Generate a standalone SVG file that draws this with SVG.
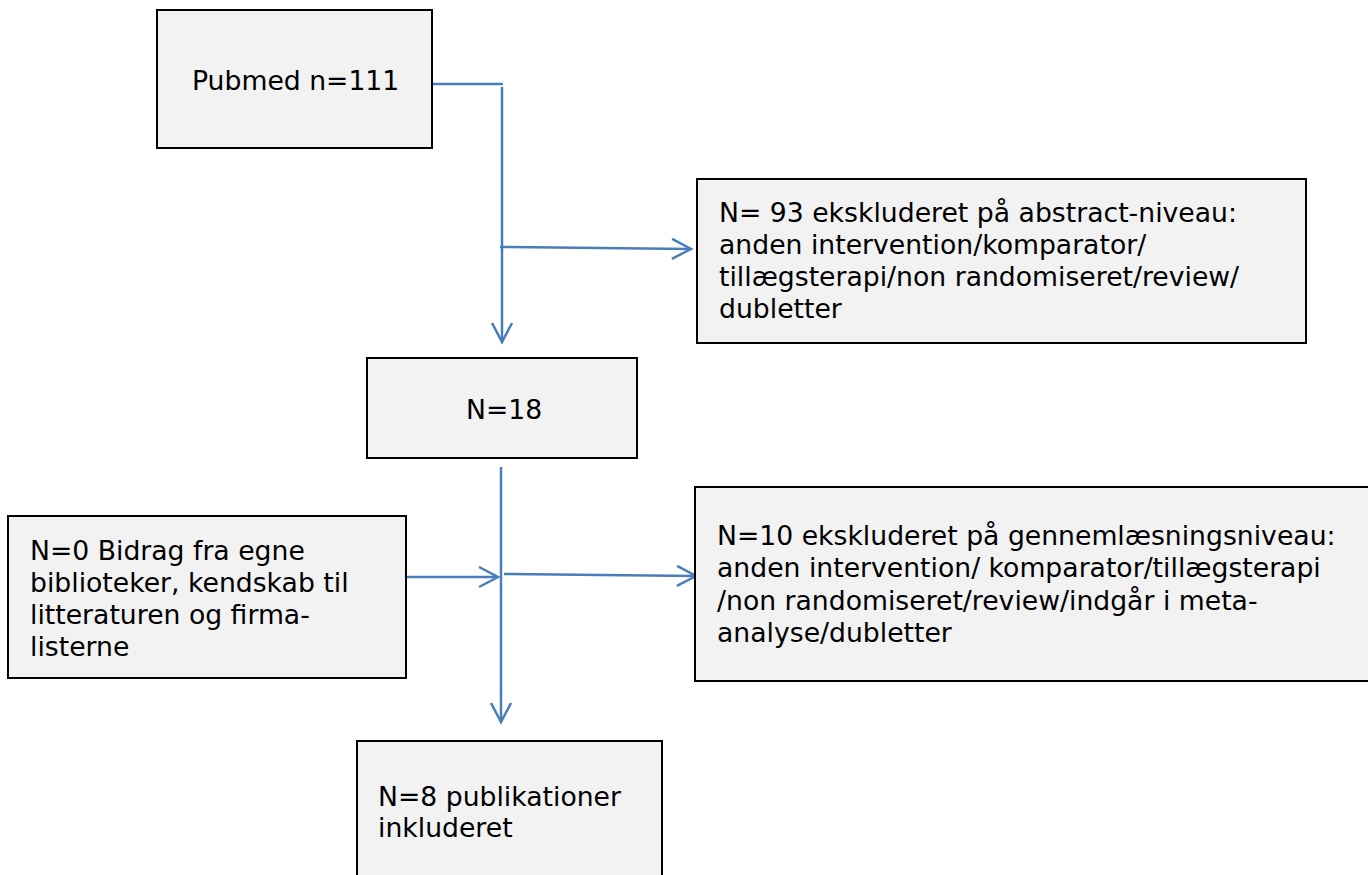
<svg xmlns="http://www.w3.org/2000/svg" width="1368" height="875" viewBox="0 0 1368 875">
<style>
.box{fill:#F2F2F2;stroke:#000;stroke-width:2}
.t{font-family:"DejaVu Sans",Verdana,sans-serif;font-size:26.67px;fill:#000}
.c{fill:none;stroke:#4A7EBB;stroke-width:2.5}
</style>
<defs>
<marker id="ah" markerUnits="userSpaceOnUse" markerWidth="24" markerHeight="24" viewBox="-2 -2 24 24" refX="19" refY="10" orient="auto">
<path d="M0,0 L19,10 L0,20" fill="none" stroke="#4A7EBB" stroke-width="2.5"/>
</marker>
</defs>
<rect width="1368" height="875" fill="#fff"/>
<g id="connectors">
<path class="c" d="M432,84 H503"/>
<path class="c" d="M502,87 V342" marker-end="url(#ah)"/>
<path class="c" d="M500,247 L691,249" marker-end="url(#ah)"/>
<path class="c" d="M501,467 V722" marker-end="url(#ah)"/>
<path class="c" d="M406,577 H498" marker-end="url(#ah)"/>
<path class="c" d="M504,574 L696,576" marker-end="url(#ah)"/>
</g>
<g id="pubmed">
<rect class="box" x="157" y="10" width="275" height="138"/>
<text class="t" x="192" y="90">Pubmed n=111</text>
</g>
<g id="excluded-abstract">
<rect class="box" x="697" y="179" width="609" height="164"/>
<text class="t" x="719" y="222" textLength="518" lengthAdjust="spacingAndGlyphs">N= 93 ekskluderet på abstract-niveau:</text>
<text class="t" x="719" y="254">anden intervention/komparator/</text>
<text class="t" x="719" y="286">tillægsterapi/non randomiseret/review/</text>
<text class="t" x="719" y="318">dubletter</text>
</g>
<g id="n18">
<rect class="box" x="367" y="358" width="270" height="100"/>
<text class="t" x="466" y="419">N=18</text>
</g>
<g id="other-sources">
<rect class="box" x="8" y="516" width="398" height="162"/>
<text class="t" x="30" y="560">N=0 Bidrag fra egne</text>
<text class="t" x="30" y="592">biblioteker, kendskab til</text>
<text class="t" x="30" y="624">litteraturen og firma-</text>
<text class="t" x="30" y="656">listerne</text>
</g>
<g id="excluded-fulltext">
<rect class="box" x="695" y="487" width="674" height="194"/>
<text class="t" x="717" y="545">N=10 ekskluderet på gennemlæsningsniveau:</text>
<text class="t" x="717" y="577">anden intervention/ komparator/tillægsterapi</text>
<text class="t" x="717" y="610">/non randomiseret/review/indgår i meta-</text>
<text class="t" x="717" y="642">analyse/dubletter</text>
</g>
<g id="included">
<rect class="box" x="357" y="741" width="305" height="140"/>
<text class="t" x="378" y="806">N=8 publikationer</text>
<text class="t" x="378" y="837">inkluderet</text>
</g>
</svg>
